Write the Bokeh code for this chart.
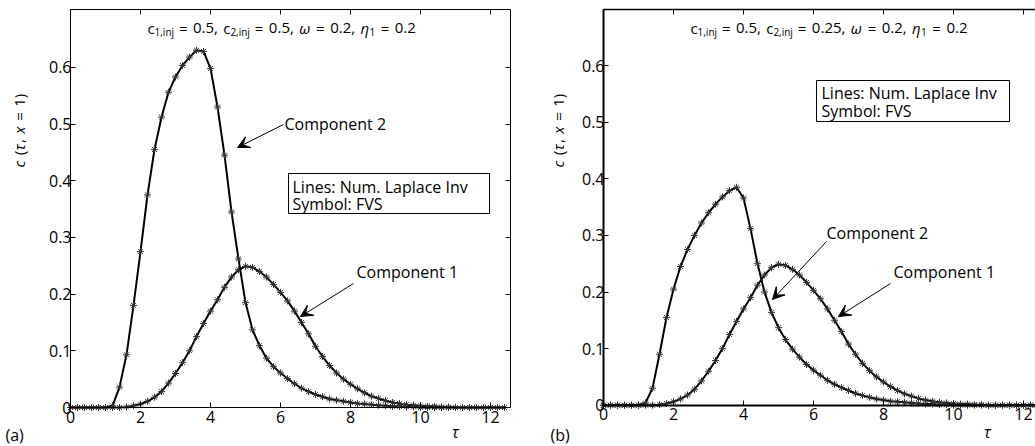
import math
from bokeh.plotting import figure
from bokeh.layouts import row
from bokeh.models import Range1d, LinearAxis, Label, Arrow, VeeHead, BoxAnnotation, FixedTicker
from bokeh.embed import file_html
from bokeh.resources import INLINE

# ---------------- data ----------------
TAU = [0.0, 0.2, 0.4, 0.6, 0.8, 1.0, 1.2, 1.4, 1.6, 1.8, 2.0, 2.2, 2.4, 2.6, 2.8, 3.0,
       3.2, 3.4, 3.6, 3.8, 4.0, 4.2, 4.4, 4.6, 4.8, 5.0, 5.2, 5.4, 5.6, 5.8, 6.0, 6.2,
       6.4, 6.6, 6.8, 7.0, 7.2, 7.4, 7.6, 7.8, 8.0, 8.2, 8.4, 8.6, 8.8, 9.0, 9.2, 9.4,
       9.6, 9.8, 10.0, 10.2, 10.4, 10.6, 10.8, 11.0, 11.2, 11.4, 11.6, 11.8, 12.0, 12.2, 12.4]

# panel (a): c1,inj = 0.5, c2,inj = 0.5
A_COMP1 = [0, 0, 0, 0, 0, 0, 0, 0, 0.001, 0.003, 0.006, 0.011, 0.018, 0.028, 0.043, 0.060,
           0.079, 0.100, 0.125, 0.148, 0.170, 0.190, 0.212, 0.230, 0.243, 0.249, 0.247, 0.240, 0.230, 0.217, 0.203, 0.188,
           0.170, 0.150, 0.130, 0.108, 0.090, 0.074, 0.061, 0.050, 0.041, 0.033, 0.026, 0.020, 0.016, 0.012, 0.009, 0.007,
           0.005, 0.004, 0.003, 0.002, 0.002, 0.001, 0.001, 0, 0, 0, 0, 0, 0, 0, 0]
A_COMP2 = [0, 0, 0, 0, 0, 0, 0.003, 0.036, 0.093, 0.180, 0.275, 0.375, 0.455, 0.512, 0.556, 0.583,
           0.603, 0.618, 0.630, 0.628, 0.598, 0.530, 0.445, 0.345, 0.262, 0.185, 0.137, 0.109, 0.087, 0.072, 0.061, 0.051,
           0.042, 0.034, 0.028, 0.023, 0.019, 0.015, 0.013, 0.011, 0.009, 0.007, 0.006, 0.005, 0.004, 0.003, 0.002, 0.002,
           0.001, 0.001, 0, 0, 0, 0, 0, 0, 0, 0, 0, 0, 0, 0, 0]

# panel (b): c1,inj = 0.5, c2,inj = 0.25
B_COMP1 = [0, 0, 0, 0, 0, 0, 0, 0, 0.001, 0.003, 0.006, 0.011, 0.018, 0.028, 0.043, 0.060,
           0.079, 0.100, 0.125, 0.148, 0.170, 0.190, 0.212, 0.230, 0.243, 0.249, 0.247, 0.240, 0.230, 0.217, 0.203, 0.188,
           0.170, 0.150, 0.130, 0.108, 0.090, 0.074, 0.061, 0.050, 0.041, 0.033, 0.026, 0.020, 0.016, 0.012, 0.009, 0.007,
           0.005, 0.004, 0.003, 0.002, 0.002, 0.001, 0.001, 0, 0, 0, 0, 0, 0, 0, 0]
B_COMP2 = [0, 0, 0, 0, 0, 0, 0.004, 0.030, 0.090, 0.155, 0.205, 0.245, 0.275, 0.300, 0.322, 0.340,
           0.355, 0.368, 0.379, 0.385, 0.366, 0.312, 0.250, 0.200, 0.164, 0.137, 0.116, 0.099, 0.085, 0.072, 0.062, 0.053,
           0.044, 0.037, 0.031, 0.026, 0.021, 0.017, 0.014, 0.011, 0.009, 0.007, 0.006, 0.005, 0.004, 0.003, 0.002, 0.002,
           0.001, 0.001, 0, 0, 0, 0, 0, 0, 0, 0, 0, 0, 0, 0, 0]

X_TICKS = [0, 2, 4, 6, 8, 10, 12]
Y_TICKS = [0, 0.1, 0.2, 0.3, 0.4, 0.5, 0.6]

LEGEND_LINES = ["Lines: Num. Laplace Inv", "Symbol: FVS"]
TITLE_A = [("c", 15, "normal", True), ("1,inj", 10, "normal", False), (" = 0.5, c", 15, "normal", True),
           ("2,inj", 10, "normal", False), (" = 0.5, ", 15, "normal", True), ("ω", 15, "italic", True),
           (" = 0.2, ", 15, "normal", True), ("η", 15, "italic", True), ("1", 10, "normal", False),
           (" = 0.2", 15, "normal", True)]
TITLE_B = [("c", 15, "normal", True), ("1,inj", 10, "normal", False), (" = 0.5, c", 15, "normal", True),
           ("2,inj", 10, "normal", False), (" = 0.25, ", 15, "normal", True), ("ω", 15, "italic", True),
           (" = 0.2, ", 15, "normal", True), ("η", 15, "italic", True), ("1", 10, "normal", False),
           (" = 0.2", 15, "normal", True)]
YLABEL = [("c", 15, "italic", True), (" (", 15, "normal", True), ("τ", 15, "italic", True),
          (", ", 15, "normal", True), ("x", 15, "italic", True), (" = 1)", 15, "normal", True)]

FONT = "Open Sans"
PAGE_H = 446

# approximate advance widths (em) used to lay out composed texts
CW = {'.': .266, ',': .245, '=': .572, '(': .297, ')': .297, 'c': .47, 'i': .229,
      'n': .614, 'j': .229, 'ω': .76, 'η': .6, 'τ': .5, 'x': .5}
for d in "0123456789":
    CW[d] = .572


def compose(pieces, start, space_px, place):
    cur = start
    for text, size, style, main in pieces:
        toks = text.split(' ')
        for k, tok in enumerate(toks):
            if k > 0:
                cur += space_px
            if tok:
                place(cur, tok, size, style, main)
                cur += sum(CW.get(ch, .55) for ch in tok) * size
    return cur


def style_axis(ax, labels, lw):
    ax.major_tick_in = 5
    ax.major_tick_out = 0
    ax.minor_tick_in = 0
    ax.minor_tick_out = 0
    ax.axis_line_color = "black"
    ax.axis_line_width = lw
    ax.major_tick_line_color = "black"
    ax.major_label_text_font = FONT
    ax.major_label_text_font_size = "16px"
    ax.major_label_text_color = "black" if labels else None


class Panel:
    """A figure whose frame fills the canvas; page pixel -> data conversion for annotations."""

    def __init__(self, width, page_left, x0_page, y0_page, ppx, ppy, box_top_page, box_right_page):
        self.x0 = x0_page
        self.y0 = y0_page
        self.ppx = ppx
        self.ppy = ppy
        cx0 = x0_page - page_left          # canvas x of tau = 0
        cy0 = y0_page                      # canvas y of c = 0
        self.p = figure(width=width, height=PAGE_H,
                        x_range=Range1d(-cx0 / ppx, (width - cx0) / ppx),
                        y_range=Range1d(-(PAGE_H - cy0) / ppy, cy0 / ppy),
                        output_backend="svg", toolbar_location=None,
                        x_axis_type=None, y_axis_type=None,
                        min_border=0, min_border_left=0, min_border_right=0,
                        min_border_top=0, min_border_bottom=0)
        self.p.grid.visible = False
        self.p.outline_line_color = None
        self.p.background_fill_color = "white"
        self.p.border_fill_color = "white"
        self.xmax = self.X(box_right_page)
        self.ymax = self.Y(box_top_page)

    def X(self, px):
        return (px - self.x0) / self.ppx

    def Y(self, py):
        return (self.y0 - py) / self.ppy

    def axes(self, lw_main, lw_top, right):
        p = self.p
        bx = (0, self.xmax)
        by = (0, self.ymax)
        bottom = LinearAxis(ticker=FixedTicker(ticks=X_TICKS), fixed_location=0, bounds=bx)
        style_axis(bottom, True, lw_main)
        bottom.major_label_standoff = 3
        p.add_layout(bottom, "below")
        left = LinearAxis(ticker=FixedTicker(ticks=Y_TICKS), fixed_location=0, bounds=by)
        style_axis(left, True, lw_main)
        left.major_label_standoff = -1
        left.major_label_overrides = {0: "0"}
        p.add_layout(left, "left")
        top = LinearAxis(ticker=FixedTicker(ticks=X_TICKS), fixed_location=self.ymax, bounds=bx)
        style_axis(top, False, lw_top)
        p.add_layout(top, "above")
        if right:
            r = LinearAxis(ticker=FixedTicker(ticks=Y_TICKS), fixed_location=self.xmax, bounds=by)
            style_axis(r, False, 1)
            p.add_layout(r, "right")

    def series(self, c1, c2):
        for ys in (c1, c2):
            self.p.line(TAU, ys, line_color="black", line_width=2)
            self.p.scatter(TAU, ys, marker="asterisk", size=7, line_color="#333333", line_width=1)

    def txt(self, x, y, text, size=16, style="normal", align="left", angle=0.0):
        self.p.add_layout(Label(x=self.X(x), y=self.Y(y), text=text, text_font=FONT,
                                text_font_size=f"{size}px", text_font_style=style,
                                text_color="black", text_align=align,
                                text_baseline="middle", angle=angle))

    def title(self, pieces, x0, y_main):
        def place(x, tok, size, style, main):
            self.txt(x, y_main if main else y_main + 4, tok, size, style)
        compose(pieces, x0, 5.5, place)

    def ylabel(self, xc, y_bottom):
        def place(off, tok, size, style, main):
            self.txt(xc, y_bottom - off, tok, size, style, angle=math.pi / 2)
        compose(YLABEL, 0, 5.5, place)

    def legend(self, box, x_text, ys):
        l, r, t, b = box
        self.p.add_layout(BoxAnnotation(left=self.X(l), right=self.X(r), top=self.Y(t),
                                        bottom=self.Y(b), fill_color="white", fill_alpha=1,
                                        line_color="black", line_width=1, line_alpha=1))
        for line, y in zip(LEGEND_LINES, ys):
            self.txt(x_text, y, line)

    def pointer(self, label_xy, text, arrow):
        self.txt(label_xy[0], label_xy[1], text)
        x0, y0, x1, y1 = arrow
        self.p.add_layout(Arrow(end=VeeHead(size=12, fill_color="black", line_color="black",
                                            line_width=1),
                                x_start=self.X(x0), y_start=self.Y(y0),
                                x_end=self.X(x1), y_end=self.Y(y1),
                                line_color="black", line_width=1))


# ---------------- panel (a) ----------------
A = Panel(548, 0, 70, 407, 35, 567, 9, 510)
A.axes(1, 1, True)
A.series(A_COMP1, A_COMP2)
A.title(TITLE_A, 147, 27)
A.ylabel(18, 167)
A.legend((288, 489, 173, 213), 292, (186, 203))
A.pointer((284, 123), "Component 2", (283, 124, 237, 147))
A.pointer((356, 271), "Component 1", (353, 283, 300, 316))
A.txt(5, 434, "(a)")
A.txt(455, 431, "τ", style="italic", align="center")

# ---------------- panel (b) ----------------
B = Panel(487, 548, 603, 404.7, 35, 566, 9, 1043)
B.axes(2, 1.3, False)
B.series(B_COMP1, B_COMP2)
B.title(TITLE_B, 690, 27)
B.ylabel(557, 167)
B.legend((816, 1009, 80, 121), 821, (92, 110))
B.pointer((826, 232), "Component 2", (826, 241, 772, 299))
B.pointer((893, 271), "Component 1", (890, 283, 838, 316))
B.txt(550, 434, "(b)")
B.txt(987, 431, "τ", style="italic", align="center")

layout = row(A.p, B.p)
open("out.html", "w").write(file_html(layout, INLINE))
